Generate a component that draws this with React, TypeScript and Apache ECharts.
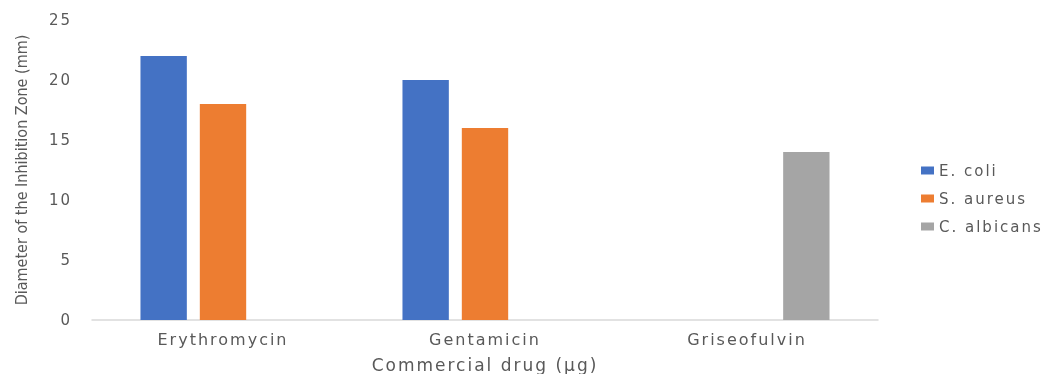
import React, { useEffect, useRef } from "react";
import * as echarts from "echarts";

const drugs = ["Erythromycin", "Gentamicin", "Griseofulvin"];
const eColi = [22, 20, 0];
const sAureus = [18, 16, 0];
const cAlbicans = [0, 0, 14];
const seriesNames = ["E. coli", "S. aureus", "C. albicans"];
const colors = ["#4472C4", "#ED7D31", "#A5A5A5"];

const textColor = "#595959";
const uiFont = "'DejaVu Sans', 'Noto Sans', sans-serif";
const narrowFont = "'Liberation Sans Narrow', 'DejaVu Sans Condensed', sans-serif";

// Wide tracking for the chart's texts, except the narrow axis title
const textCss = `
.drug-chart svg text { letter-spacing: 2px; }
.drug-chart svg text[style*="Narrow"] { letter-spacing: 0; }
`;

export default function App() {
  const ref = useRef<HTMLDivElement>(null);

  useEffect(() => {
    if (!ref.current) return;
    const chart = echarts.init(ref.current, null, { renderer: "svg" });
    const values = [eColi, sAureus, cAlbicans];
    chart.setOption({
      animation: false,
      grid: {
        left: 92,
        right: 166,
        top: 20,
        bottom: 54,
        containLabel: false,
        outerBoundsMode: "none",
      },
      legend: {
        orient: "vertical",
        left: 916,
        top: 158,
        itemWidth: 13,
        itemHeight: 8,
        itemGap: 13,
        icon: "rect",
        textStyle: { color: textColor, fontSize: 15, fontFamily: uiFont },
        data: seriesNames,
      },
      xAxis: {
        type: "category",
        data: drugs,
        axisLine: { lineStyle: { color: "#D9D9D9", width: 1.5 } },
        axisTick: { show: false },
        axisLabel: { color: textColor, fontSize: 16, fontFamily: uiFont, margin: 11 },
        name: "Commercial drug (µg)",
        nameLocation: "middle",
        nameGap: 36,
        nameTextStyle: { color: textColor, fontSize: 17, fontFamily: uiFont },
      },
      yAxis: {
        type: "value",
        min: 0,
        max: 25,
        interval: 5,
        splitLine: { show: false },
        axisLine: { show: false },
        axisTick: { show: false },
        axisLabel: { color: textColor, fontSize: 15, fontFamily: uiFont, margin: 20 },
        name: "Diameter of the Inhibition Zone (mm)",
        nameLocation: "middle",
        nameGap: 63,
        nameTextStyle: { color: textColor, fontSize: 16, fontFamily: narrowFont },
      },
      series: seriesNames.map((name, i) => ({
        name,
        type: "bar",
        data: values[i],
        barGap: "28%",
        barCategoryGap: "37%",
        itemStyle: { color: colors[i] },
      })),
    });
    return () => chart.dispose();
  }, []);

  return (
    <>
      <style>{textCss}</style>
      <div
        ref={ref}
        className="drug-chart"
        style={{ position: "fixed", left: 0, top: 0, width: 1044, height: 374 }}
      />
    </>
  );
}
